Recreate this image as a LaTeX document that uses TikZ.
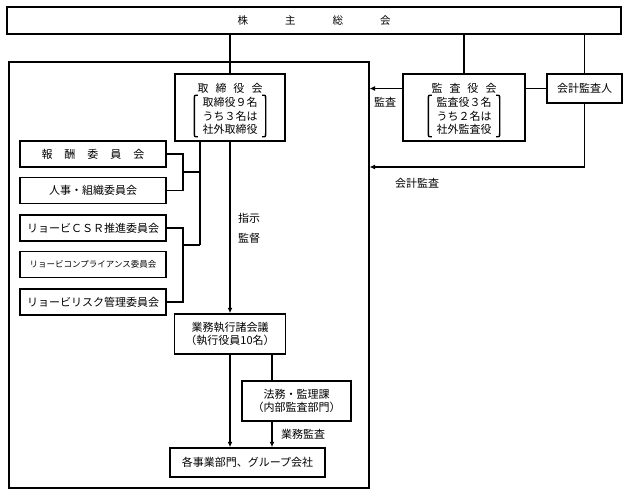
\documentclass[tikz,border=0pt]{standalone}
\usepackage{fontspec}
\setmainfont{Noto Sans CJK JP}
\usetikzlibrary{arrows.meta,calc}
\newcommand{\jfs}{\fontsize{11}{13.5}\selectfont}
\newcommand{\jsm}{\fontsize{8.5}{10}\selectfont}
\newcommand{\lbrk}[2]{\draw[brk] ($(#1)+(3.5,0)$) .. controls ($(#1)+(0,0)$) .. ($(#1)+(0,4)$) -- ($(#2)+(0,-4)$) .. controls ($(#2)$) .. ($(#2)+(3.5,0)$);}
\newcommand{\rbrk}[2]{\draw[brk] ($(#1)+(-3.5,0)$) .. controls ($(#1)+(0,0)$) .. ($(#1)+(0,4)$) -- ($(#2)+(0,-4)$) .. controls ($(#2)$) .. ($(#2)+(-3.5,0)$);}
\begin{document}
\begin{tikzpicture}[x=1pt,y=-1pt,
  box/.style={draw,line width=1.5pt,inner sep=0pt,font=\jfs},
  conn/.style={line width=1.2pt},
  arr/.style={line width=1.2pt,-{Latex[length=5.5pt,width=5pt]}},
  lbl/.style={font=\jfs,inner sep=0pt},
  brk/.style={line width=1.4pt}]
\useasboundingbox (0,0) rectangle (628,495);
\fill[white] (0,0) rectangle (628,495);

% shareholders
\node[box,minimum width=614pt,minimum height=27pt,font=\fontsize{10.5}{12}\selectfont] (kabu) at (314,20.5) {株\hspace{37pt}主\hspace{37pt}総\hspace{37pt}会};

% outer frame
\node[draw,line width=1.5pt,minimum width=360pt,minimum height=426pt,anchor=north west,inner sep=0pt] (outer) at (8,61) {};

% board of directors
\node[box,minimum width=110pt,minimum height=67pt] (tori) at (230,107.5) {};
\node[lbl] (toriT) at (230,88) {取\hspace{7pt}締\hspace{7pt}役\hspace{7pt}会};
\node[lbl,align=center] (toriB) at (230,116) {取締役９名\\うち３名は\\社外取締役};
\lbrk{$(toriB.north west)+(-8,-2)$}{$(toriB.south west)+(-8,2)$}
\rbrk{$(toriB.north east)+(8,-2)$}{$(toriB.south east)+(8,2)$}

% audit board
\node[box,minimum width=122pt,minimum height=67pt] (kansa) at (464,107.5) {};
\node[lbl] (kansaT) at (464,88) {監\hspace{7pt}査\hspace{7pt}役\hspace{7pt}会};
\node[lbl,align=center] (kansaB) at (464,116) {監査役３名\\うち２名は\\社外監査役};
\lbrk{$(kansaB.north west)+(-8,-2)$}{$(kansaB.south west)+(-8,2)$}
\rbrk{$(kansaB.north east)+(8,-2)$}{$(kansaB.south east)+(8,2)$}

% accounting auditor
\node[box,minimum width=75pt,minimum height=29pt] (kaikei) at (584.5,88.5) {会計監査人};

% committees
\node[box,minimum width=146pt,minimum height=26pt] (c1) at (93,154) {報\hspace{12pt}酬\hspace{12pt}委\hspace{12pt}員\hspace{12pt}会};
\node[box,minimum width=146pt,minimum height=26pt] (c2) at (93,190.5) {人事・組織委員会};
\node[box,minimum width=146pt,minimum height=26pt] (c3) at (93,228) {リョービＣＳＲ推進委員会};
\node[box,minimum width=146pt,minimum height=26pt,font=\jsm] (c4) at (93,264.5) {リョービコンプライアンス委員会};
\node[box,minimum width=146pt,minimum height=26pt] (c5) at (93,302) {リョービリスク管理委員会};

% executive meeting
\node[box,minimum width=111pt,minimum height=40pt,align=center] (gyomu) at (230,334) {業務執行諸会議\\（執行役員10名）};
\node[box,minimum width=109pt,minimum height=40pt,align=center] (homu) at (296.5,401) {法務・監理課\\（内部監査部門）};
\node[box,minimum width=155pt,minimum height=29pt] (kaku) at (247.5,462.5) {各事業部門、グループ会社};

% helper coordinates
\coordinate (bx) at (183,0);
\coordinate (vx) at (200,0);
\coordinate (hx) at (272,0);
\coordinate (ky) at (0,167);
\coordinate (m1) at (0,172);
\coordinate (m2) at (0,245);

% connectors from shareholders
\draw[conn] (kabu.south -| tori.north) -- (tori.north);
\draw[conn] (kabu.south -| kansa.north) -- (kansa.north);
\draw[conn] (kabu.south -| kaikei.north) -- (kaikei.north);
\draw[conn] (kaikei.west) -- (kaikei.west -| kansa.east);
\draw[arr] (kansa.west |- kaikei.west) -- (outer.east |- kaikei.west);
\draw[arr] (kaikei.south) |- (ky -| outer.east);
\node[lbl] (lkansa) at (385,102) {監査};
\node[lbl] (lkaikei) at (417,183) {会計監査};

% committees bracket
\draw[conn] (c1.east) -| (c2.east -| bx) -- (c2.east);
\draw[conn] (m1 -| bx) -- (m1 -| vx);
\draw[conn] (c3.east) -| (c5.east -| bx) -- (c5.east);
\draw[conn] (m2 -| bx) -- (m2 -| vx);
\draw[conn] (tori.south -| vx) -- (m2 -| vx);

% directives
\draw[arr] (tori.south) -- (gyomu.north -| tori.south);
\node[lbl] (lshiji) at (249,218) {指示};
\node[lbl] (lkantoku) at (249,238) {監督};

\draw[arr] (gyomu.south -| tori.south) -- (kaku.north -| tori.south);
\draw[conn] (gyomu.south -| hx) -- (homu.north -| hx);
\draw[arr] (homu.south -| hx) -- (kaku.north -| hx);
\node[lbl] (lgyomu) at (303,434) {業務監査};
\end{tikzpicture}
\end{document}
